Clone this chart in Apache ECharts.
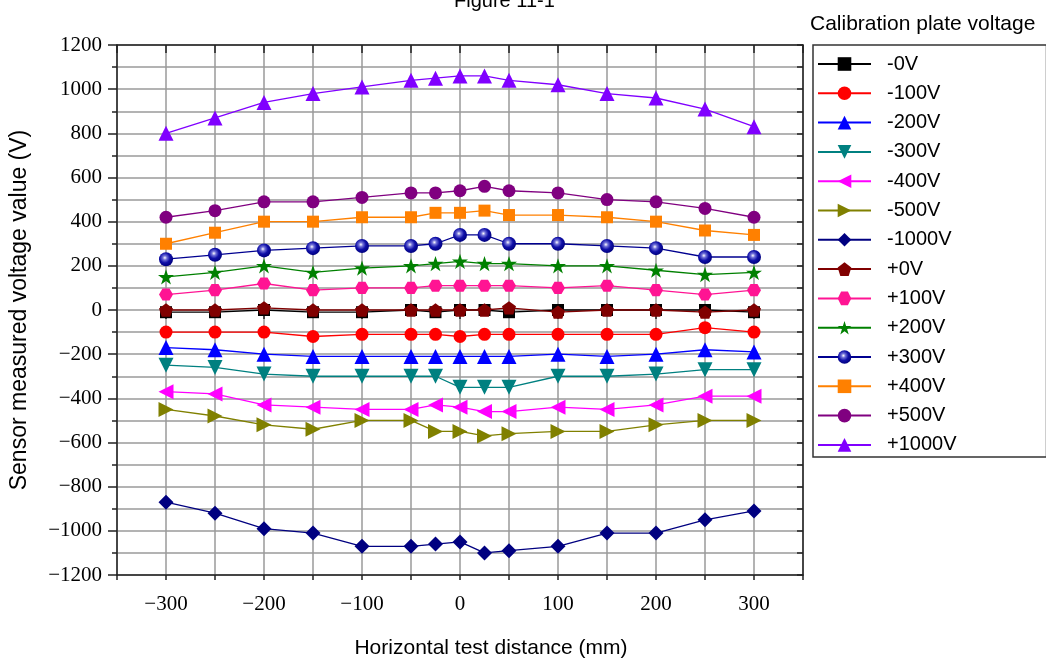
<!DOCTYPE html>
<html>
<head>
<meta charset="utf-8">
<script src="https://cdn.jsdelivr.net/npm/echarts@6/dist/echarts.min.js"></script>
<style>
html,body{margin:0;padding:0;background:#fff;}
#chart{width:1046px;height:658px;}
</style>
</head>
<body>
<div id="chart"></div>
<script>
// ---- data ----
const distances = [-300, -250, -200, -150, -100, -50, -25, 0, 25, 50, 100, 150, 200, 250, 300];
const seriesNames = ['-0V', '-100V', '-200V', '-300V', '-400V', '-500V', '-1000V', '+0V', '+100V', '+200V', '+300V', '+400V', '+500V', '+1000V'];
const neg0    = [-10, -10, 0, -10, -10, 0, -10, 0, 0, -10, 0, 0, 0, 0, -10];
const neg100  = [-100, -100, -100, -120, -110, -110, -110, -120, -110, -110, -110, -110, -110, -80, -100];
const neg200  = [-170, -180, -200, -210, -210, -210, -210, -210, -210, -210, -200, -210, -200, -180, -190];
const neg300  = [-250, -260, -290, -300, -300, -300, -300, -350, -350, -350, -300, -300, -290, -270, -270];
const neg400  = [-370, -380, -430, -440, -450, -450, -430, -440, -460, -460, -440, -450, -430, -390, -390];
const neg500  = [-450, -480, -520, -540, -500, -500, -550, -550, -570, -560, -550, -550, -520, -500, -500];
const neg1000 = [-870, -920, -990, -1010, -1070, -1070, -1060, -1050, -1100, -1090, -1070, -1010, -1010, -950, -910];
const pos0    = [0, 0, 10, 0, 0, 0, 0, 0, 0, 10, -10, 0, 0, -10, 0];
const pos100  = [70, 90, 120, 90, 100, 100, 110, 110, 110, 110, 100, 110, 90, 70, 90];
const pos200  = [150, 170, 200, 170, 190, 200, 210, 220, 210, 210, 200, 200, 180, 160, 170];
const pos300  = [230, 250, 270, 280, 290, 290, 300, 340, 340, 300, 300, 290, 280, 240, 240];
const pos400  = [300, 350, 400, 400, 420, 420, 440, 440, 450, 430, 430, 420, 400, 360, 340];
const pos500  = [420, 450, 490, 490, 510, 530, 530, 540, 560, 540, 530, 500, 490, 460, 420];
const pos1000 = [800, 870, 940, 980, 1010, 1040, 1050, 1060, 1060, 1040, 1020, 980, 960, 910, 830];
const xLabelTicks = [-300, -200, -100, 0, 100, 200, 300];

// ---- styles ----
const PENTAGON = 'path://M0,-1 L0.951,-0.309 L0.588,0.809 L-0.588,0.809 L-0.951,-0.309 Z';
const HEXAGON = 'path://M-1,0 L-0.5,-0.866 L0.5,-0.866 L1,0 L0.5,0.866 L-0.5,0.866 Z';
const STAR = 'path://M0,-1 L0.2245,-0.309 L0.951,-0.309 L0.363,0.118 L0.588,0.809 L0,0.382 L-0.588,0.809 L-0.363,0.118 L-0.951,-0.309 L-0.2245,-0.309 Z';
const sphere = {
  type: 'radial', x: 0.42, y: 0.4, r: 0.6,
  colorStops: [
    {offset: 0, color: '#ffffff'},
    {offset: 0.25, color: '#7070d8'},
    {offset: 0.6, color: '#1010a8'},
    {offset: 1, color: '#000080'}
  ]
};
const styleDefs = [
  {color: '#000000', symbol: 'rect', size: 12},
  {color: '#ff0000', symbol: 'circle', size: 13},
  {color: '#0000ff', symbol: 'triangle', size: 15},
  {color: '#008080', symbol: 'triangle', size: 15, rotate: 180},
  {color: '#ff00ff', symbol: 'triangle', size: 15, rotate: 90},
  {color: '#808000', symbol: 'triangle', size: 15, rotate: -90},
  {color: '#000080', symbol: 'diamond', size: 15},
  {color: '#800000', symbol: PENTAGON, size: 14},
  {color: '#ff1493', symbol: HEXAGON, size: 14},
  {color: '#008000', symbol: STAR, size: 16},
  {color: '#000090', symbol: 'circle', size: 14, fill: sphere},
  {color: '#ff8000', symbol: 'rect', size: 12},
  {color: '#800080', symbol: 'circle', size: 13},
  {color: '#8000ff', symbol: 'triangle', size: 15}
];
const valueLists = [neg0, neg100, neg200, neg300, neg400, neg500, neg1000, pos0, pos100, pos200, pos300, pos400, pos500, pos1000];

const series = seriesNames.map((name, i) => {
  const s = styleDefs[i];
  return {
    name: name,
    type: 'line',
    xAxisIndex: 0,
    yAxisIndex: 0,
    data: distances.map((d, j) => [d, valueLists[i][j]]),
    symbol: s.symbol,
    symbolSize: s.size,
    symbolRotate: s.rotate || 0,
    symbolKeepAspect: true,
    showAllSymbol: true,
    lineStyle: {color: s.color, width: 1.3},
    itemStyle: {color: s.fill || s.color, borderWidth: 0},
    emphasis: {disabled: true},
    animation: false,
    z: 3 + i
  };
});

const minus = v => String(v).replace('-', '\u2212');
const gridLine = {show: true, lineStyle: {color: '#9a9a9a', width: 1.5}};
const axisLineStyle = {show: true, onZero: false, lineStyle: {color: '#222', width: 1.5}};

const chart = echarts.init(document.getElementById('chart'), null, {renderer: 'canvas'});
chart.setOption({
  backgroundColor: '#ffffff',
  animation: false,
  title: [
    {text: 'Figure 11-1', left: 449, top: -14,
     textStyle: {fontFamily: 'Liberation Sans', fontSize: 20, fontWeight: 'normal', color: '#000'}},
    {text: 'Calibration plate voltage', left: 805, top: 9,
     textStyle: {fontFamily: 'Liberation Sans', fontSize: 21, fontWeight: 'normal', color: '#000'}}
  ],
  legend: {
    orient: 'vertical',
    left: 813, top: 45,
    itemWidth: 53, itemHeight: 17, itemGap: 9.3,
    padding: [9, 90, 2, 4],
    borderColor: '#333', borderWidth: 1.5,
    textStyle: {fontFamily: 'Liberation Sans', fontSize: 20, color: '#000', padding: [0, 0, 0, 11]},
    data: seriesNames,
    selectedMode: false
  },
  grid: {left: 117, top: 45, width: 686, height: 530, containLabel: false, outerBoundsMode: 'none'},
  xAxis: [
    {
      type: 'value', position: 'bottom', min: -350, max: 350, interval: 50,
      axisLine: axisLineStyle,
      axisTick: {show: true, inside: false, length: 5, lineStyle: {color: '#222', width: 1.5}},
      axisLabel: {show: true, customValues: xLabelTicks, margin: 19,
        formatter: v => (v % 100 === 0 ? minus(v) : ''),
        fontFamily: 'Liberation Serif', fontSize: 21, color: '#000'},
      splitLine: gridLine,
      name: 'Horizontal test distance (mm)', nameLocation: 'middle', nameGap: 63,
      nameTextStyle: {fontFamily: 'Liberation Sans', fontSize: 21, color: '#000', padding: [0, 0, 0, 62]}
    },
    {
      type: 'value', position: 'top', min: -350, max: 350, interval: 50,
      axisLine: axisLineStyle,
      axisTick: {show: true, inside: true, length: 8, lineStyle: {color: '#222', width: 1.5}},
      axisLabel: {show: false},
      splitLine: {show: false}
    },
    {
      type: 'value', position: 'bottom', min: -350, max: 350, interval: 50,
      axisLine: {show: false},
      axisTick: {show: true, inside: false, length: 9, customValues: xLabelTicks, lineStyle: {color: '#222', width: 1.5}},
      axisLabel: {show: false},
      splitLine: {show: false}
    }
  ],
  yAxis: [
    {
      type: 'value', position: 'left', min: -1200, max: 1200, interval: 200,
      axisLine: axisLineStyle,
      axisTick: {show: true, inside: false, length: 9, lineStyle: {color: '#222', width: 1.5}},
      minorTick: {show: true, splitNumber: 2, length: 5, lineStyle: {color: '#222', width: 1.5}},
      minorSplitLine: gridLine,
      axisLabel: {formatter: v => minus(v), margin: 15, fontFamily: 'Liberation Serif', fontSize: 21, color: '#000'},
      splitLine: gridLine,
      name: 'Sensor measured voltage value (V)', nameLocation: 'middle', nameGap: 86,
      nameTextStyle: {fontFamily: 'Liberation Sans', fontSize: 23, color: '#000'}
    },
    {
      type: 'value', position: 'right', min: -1200, max: 1200, interval: 100,
      axisLine: axisLineStyle,
      axisTick: {show: true, inside: true, length: 6, lineStyle: {color: '#222', width: 1.5}},
      axisLabel: {show: false},
      splitLine: {show: false}
    }
  ],
  series: series
});
</script>
</body>
</html>
